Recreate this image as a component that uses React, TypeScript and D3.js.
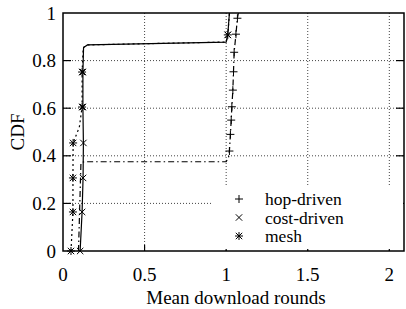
import { useRef, useEffect } from "react";
import * as d3 from "d3";

// x = mean download rounds, y = CDF
const hopLineX = [0.095, 0.11, 0.13, 1.0, 1.015, 1.02, 1.026, 1.031, 1.035, 1.041, 1.045, 1.049, 1.06, 1.069, 1.075];
const hopLineY = [0, 0.37, 0.375, 0.375, 0.395, 0.42, 0.49, 0.55, 0.606, 0.676, 0.753, 0.835, 0.911, 0.978, 1.0];
const hopMarkX = [1.02, 1.026, 1.031, 1.035, 1.041, 1.045, 1.049, 1.06, 1.069];
const hopMarkY = [0.42, 0.49, 0.55, 0.606, 0.676, 0.753, 0.835, 0.911, 0.978];

const costLineX = [0.105, 0.117, 0.123, 0.125, 0.122, 0.122, 0.126, 0.15, 1.0, 1.01, 1.02];
const costLineY = [0, 0.164, 0.307, 0.454, 0.605, 0.752, 0.855, 0.866, 0.878, 0.908, 1.0];
const costMarkX = [0.105, 0.117, 0.123, 0.125, 0.122, 0.122, 1.01];
const costMarkY = [0, 0.164, 0.307, 0.454, 0.605, 0.752, 0.908];

const meshLineX = [0.049, 0.061, 0.061, 0.062, 0.1, 0.117, 0.117, 0.124, 0.15, 1.0, 1.01, 1.02];
const meshLineY = [0, 0.164, 0.307, 0.454, 0.52, 0.605, 0.752, 0.855, 0.866, 0.878, 0.908, 1.0];
const meshMarkX = [0.049, 0.061, 0.061, 0.062, 0.117, 0.117, 1.01];
const meshMarkY = [0, 0.164, 0.307, 0.454, 0.605, 0.752, 0.908];

const xTicks = [0, 0.5, 1, 1.5, 2];
const yTicks = [0, 0.2, 0.4, 0.6, 0.8, 1];
const legendNames = ["hop-driven", "cost-driven", "mesh"];

const FONT = "Liberation Serif, Times New Roman, DejaVu Serif, serif";

function App() {
    const ref = useRef(null);

    useEffect(() => {
        const svg = d3.select(ref.current);
        svg.selectAll("*").remove();

        const x = d3.scaleLinear().domain([0, 2.09]).range([63, 404]);
        const y = d3.scaleLinear().domain([0, 1]).range([251, 13]);

        const g = svg.append("g");

        // dotted grid
        g.selectAll(".vgrid")
            .data(xTicks.filter(d => d > 0))
            .enter().append("line")
            .attr("x1", d => x(d)).attr("x2", d => x(d))
            .attr("y1", y(0)).attr("y2", y(1))
            .attr("stroke", "#444").attr("stroke-width", 1)
            .attr("stroke-dasharray", "1,2");
        g.selectAll(".hgrid")
            .data(yTicks.filter(d => d > 0 && d < 1))
            .enter().append("line")
            .attr("x1", x(0)).attr("x2", x(2.09))
            .attr("y1", d => y(d)).attr("y2", d => y(d))
            .attr("stroke", "#444").attr("stroke-width", 1)
            .attr("stroke-dasharray", "1,2");

        // ticks (inward, left/right/bottom)
        g.selectAll(".ytl").data(yTicks.slice(1, -1)).enter().append("line")
            .attr("x1", x(0)).attr("x2", x(0) + 8)
            .attr("y1", d => y(d)).attr("y2", d => y(d))
            .attr("stroke", "black").attr("stroke-width", 1.2);
        g.selectAll(".ytr").data(yTicks.slice(1, -1)).enter().append("line")
            .attr("x1", x(2.09)).attr("x2", x(2.09) - 8)
            .attr("y1", d => y(d)).attr("y2", d => y(d))
            .attr("stroke", "black").attr("stroke-width", 1.2);
        g.selectAll(".xt").data(xTicks.slice(1)).enter().append("line")
            .attr("x1", d => x(d)).attr("x2", d => x(d))
            .attr("y1", y(0)).attr("y2", y(0) - 6)
            .attr("stroke", "black").attr("stroke-width", 1.2);

        // legend box hides grid
        g.append("rect")
            .attr("x", 212).attr("y", 187).attr("width", 191).attr("height", 62)
            .attr("fill", "white");

        const line = d3.line().x(d => x(d[0])).y(d => y(d[1]));
        const zip = (a, b) => a.map((v, i) => [v, b[i]]);

        g.append("path").datum(zip(meshLineX, meshLineY))
            .attr("d", line).attr("fill", "none")
            .attr("stroke", "black").attr("stroke-width", 1.2)
            .attr("stroke-dasharray", "2,3");
        g.append("path").datum(zip(hopLineX, hopLineY))
            .attr("d", line).attr("fill", "none")
            .attr("stroke", "black").attr("stroke-width", 1.2)
            .attr("stroke-dasharray", "6,3,1.5,3");
        g.append("path").datum(zip(costLineX, costLineY))
            .attr("d", line).attr("fill", "none")
            .attr("stroke", "black").attr("stroke-width", 1.2);

        const s = 4;
        const plus = (px, py) => `M${px - s},${py}H${px + s}M${px},${py - s}V${py + s}`;
        const cross = (px, py) => `M${px - s * 0.8},${py - s * 0.8}L${px + s * 0.8},${py + s * 0.8}M${px - s * 0.8},${py + s * 0.8}L${px + s * 0.8},${py - s * 0.8}`;
        const star = (px, py) => `M${px},${py - s}V${py + s}` + cross(px, py) + `M${px - s},${py}H${px + s}`;
        const shapes = [plus, cross, star];

        const drawMarks = (xs, ys, shape) => {
            g.selectAll(null).data(zip(xs, ys)).enter().append("path")
                .attr("d", d => shape(x(d[0]), y(d[1])))
                .attr("stroke", "black").attr("stroke-width", 1).attr("fill", "none");
        };
        drawMarks(hopMarkX, hopMarkY, plus);
        drawMarks(costMarkX, costMarkY, cross);
        drawMarks(meshMarkX, meshMarkY, star);

        // frame
        g.append("rect")
            .attr("x", x(0)).attr("y", y(1))
            .attr("width", x(2.09) - x(0)).attr("height", y(0) - y(1))
            .attr("fill", "none").attr("stroke", "black").attr("stroke-width", 1.5);

        // tick labels
        g.selectAll(".yl").data(yTicks).enter().append("text")
            .attr("x", 56).attr("y", d => y(d)).attr("dy", "0.35em")
            .attr("text-anchor", "end")
            .attr("font-family", FONT).attr("font-size", 19)
            .text(d => d3.format("")(d));
        g.selectAll(".xl").data(xTicks).enter().append("text")
            .attr("x", d => x(d)).attr("y", 281)
            .attr("text-anchor", "middle")
            .attr("font-family", FONT).attr("font-size", 19)
            .text(d => d3.format("")(d));

        g.append("text")
            .attr("x", 236).attr("y", 304)
            .attr("text-anchor", "middle")
            .attr("font-family", FONT).attr("font-size", 19)
            .text("Mean download rounds");
        g.append("text")
            .attr("transform", "translate(24,132) rotate(-90)")
            .attr("text-anchor", "middle")
            .attr("font-family", FONT).attr("font-size", 19)
            .text("CDF");

        // legend
        legendNames.forEach((name, i) => {
            const ly = 199 + i * 18.5;
            g.append("path").attr("d", shapes[i](239, ly))
                .attr("stroke", "black").attr("stroke-width", 1).attr("fill", "none");
            g.append("text")
                .attr("x", 265).attr("y", ly).attr("dy", "0.35em")
                .attr("font-family", FONT).attr("font-size", 17.5)
                .text(name);
        });
    }, []);

    return (
        <svg
            ref={ref}
            width="406"
            height="309"
            style={{ position: "absolute", left: 0, top: 0, background: "white" }}
        />
    );
}

export default App;
